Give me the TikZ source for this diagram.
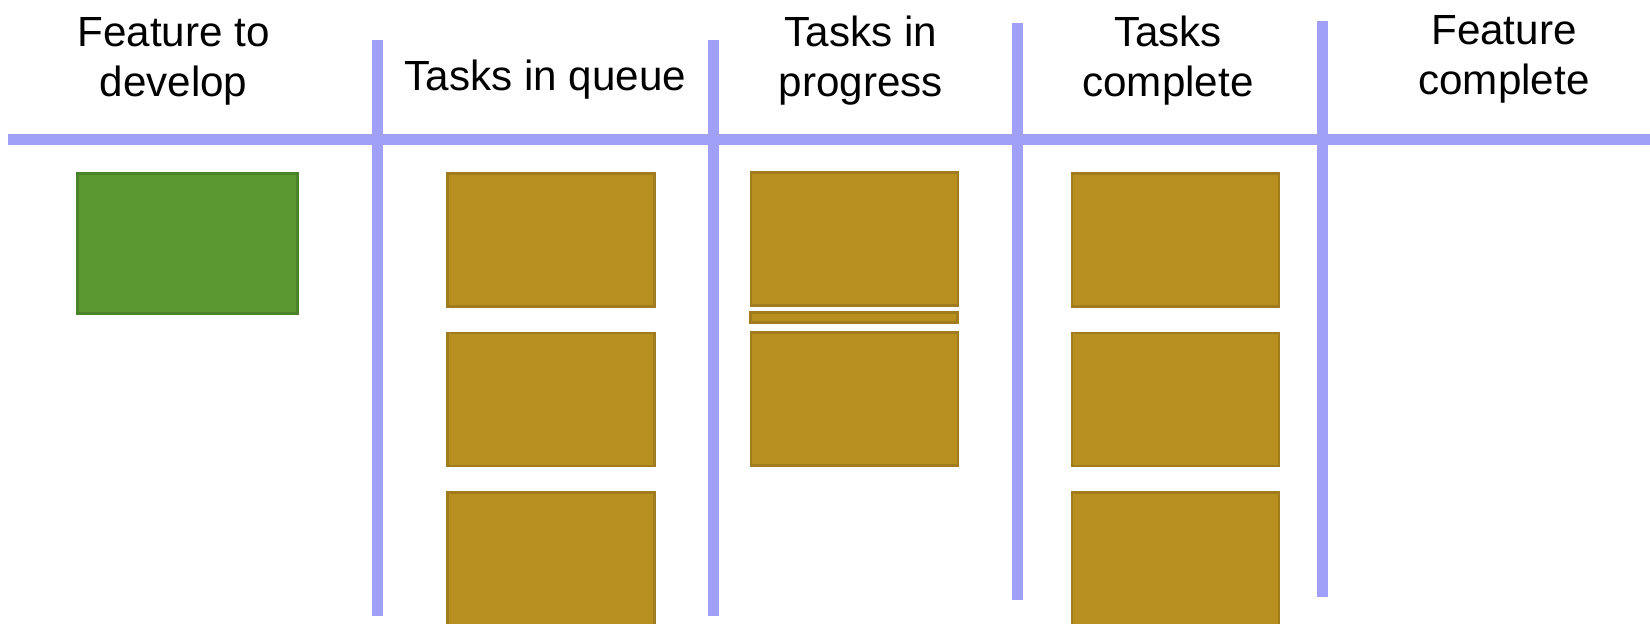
\documentclass[tikz,border=0pt]{standalone}
\usepackage{fontspec}
\setmainfont{Liberation Sans}
\definecolor{boardline}{RGB}{160,160,248}
\definecolor{taskcard}{RGB}{184,144,32}
\definecolor{taskedge}{RGB}{160,124,30}
\definecolor{featcard}{RGB}{90,152,50}
\definecolor{featedge}{RGB}{74,130,42}
\begin{document}
\begin{tikzpicture}[x=1cm,y=-1cm,
  head/.style={align=center, font=\fontsize{12}{14}\selectfont, anchor=base},
  lane/.style={boardline, line width=0.11cm},
  task/.style={draw=taskedge, fill=taskcard, line width=0.7pt, minimum width=2.07cm, minimum height=1.33cm, inner sep=0pt},
  feat/.style={draw=featedge, fill=featcard, line width=0.7pt, minimum width=2.2cm, minimum height=1.4cm, inner sep=0pt}]
\useasboundingbox (0,0) rectangle (16.5,6.23);
% board
\draw[lane] (0.08,1.39)--(16.5,1.39);
\draw[lane] (3.775,0.40)--(3.775,6.16);
\draw[lane] (7.135,0.40)--(7.135,6.16);
\draw[lane] (10.17,0.23)--(10.17,6.00);
\draw[lane] (13.22,0.21)--(13.22,5.97);
% column heads (anchor base = last line)
\node[head] (hfeat) at (1.735,0.96) {Feature to\\develop};
\node[head] (hqueue) at (5.455,0.90) {Tasks in queue};
\node[head] (hprog) at (8.61,0.96) {Tasks in\\progress};
\node[head] (hdone) at (11.68,0.96) {Tasks\\complete};
\node[head] (hfdone) at (15.04,0.94) {Feature\\complete};
% cards
\node[feat] (f1) at (1.875,2.435) {};
\node[task] (q1) at (5.51,2.40) {};
\node[task] (q2) at (5.51,3.995) {};
\node[task] (q3) at (5.51,5.59) {};
\node[task] (p1) at (8.545,2.39) {};
\node[task, minimum height=0.1cm] (pstrip) at (8.54,3.175) {};
\node[task] (p2) at (8.545,3.99) {};
\node[task] (c1) at (11.755,2.40) {};
\node[task] (c2) at (11.755,3.995) {};
\node[task] (c3) at (11.755,5.59) {};
\end{tikzpicture}
\end{document}
